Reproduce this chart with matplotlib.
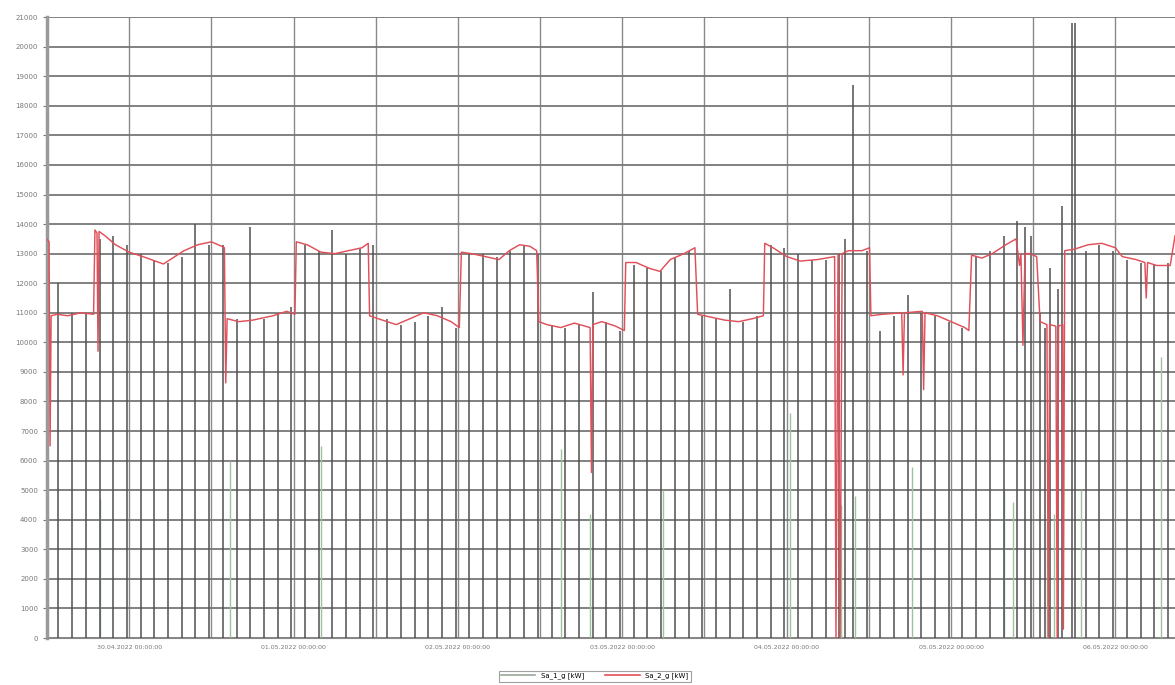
import numpy as np
import pandas as pd
import matplotlib
matplotlib.use("Agg")
from matplotlib import pyplot as plt
import matplotlib.dates as mdates

start = pd.Timestamp("2022-04-29 12:00:00")
t_end_h = 164.7

# red series: hours from start, kW
red_hours = [0.0, 0.3, 0.45, 0.6, 1.5, 3.0, 5.0, 6.8, 7.0, 7.3, 7.45, 7.6,
             8.5, 10.0, 12.0, 14.0, 17.0, 18.0, 20.0, 22.0, 24.0, 25.5, 25.9, 26.1,
             26.3, 28.0, 30.0, 33.0, 35.0, 36.2, 36.4, 38.0, 40.0, 42.0, 44.0, 46.0,
             46.9, 47.1, 49.0, 51.0, 53.0, 55.0, 57.0, 59.0, 60.2, 60.5, 62.0, 64.0,
             66.0, 67.5, 69.0, 70.5, 71.5, 71.8, 73.0, 75.0, 77.0, 79.3, 79.5, 79.7,
             81.0, 83.0, 84.3, 84.5, 86.0, 88.0, 89.5, 91.0, 93.0, 94.6, 95.0, 97.0,
             99.0, 101.0, 103.0, 104.6, 104.8, 106.0, 108.0, 110.0, 112.5, 115.0, 115.2, 115.5,
             115.8, 116.1, 117.0, 119.0, 120.1, 120.3, 122.0, 124.8, 125.0, 125.2, 127.8, 128.0,
             128.2, 130.0, 132.0, 134.0, 134.6, 135.0, 136.5, 138.0, 140.0, 141.5, 142.0, 142.2,
             142.5, 142.8, 143.5, 144.5, 145.0, 145.5, 146.0, 146.2, 146.4, 147.3, 147.5, 147.7,
             148.3, 148.4, 148.6, 150.0, 152.0, 154.0, 156.0, 157.0, 159.0, 160.3, 160.5, 160.7,
             162.0, 164.0, 164.7]
red_kw = [13500, 13400, 6500, 10900, 10950, 10900, 11000, 10950, 13800, 13700, 9700, 13750,
          13600, 13300, 13050, 12900, 12650, 12800, 13100, 13300, 13400, 13250, 13200, 8630,
          10800, 10700, 10750, 10900, 11050, 10950, 13400, 13300, 13050, 13000, 13100, 13200,
          13350, 10900, 10750, 10600, 10800, 11000, 10900, 10700, 10500, 13050, 13000, 12900,
          12800, 13100, 13300, 13250, 13100, 10700, 10600, 10500, 10650, 10500, 5600, 10600,
          10700, 10550, 10400, 12700, 12700, 12500, 12400, 12800, 13000, 13200, 10950, 10850,
          10750, 10700, 10800, 10900, 13350, 13200, 12900, 12750, 12800, 12900, 0, 13000,
          0, 13000, 13100, 13100, 13200, 10900, 10950, 11000, 8900, 11000, 11050, 8400,
          11000, 10900, 10700, 10500, 10400, 12950, 12850, 13000, 13300, 13500, 12600, 13000,
          9900, 13000, 13000, 12900, 10700, 10650, 10600, 0, 10600, 10550, 0, 10550,
          10600, 300, 13100, 13150, 13300, 13350, 13200, 12900, 12800, 12700, 11500, 12700,
          12600, 12600, 13600]

# grey series: short switching spikes every two hours
spike_first_h = 1.67
spike_kw = [12000, 11000, 11000, 13500, 13600, 13300, 13000, 12800, 12700, 12900,
            14000, 13300, 13300, 10800, 13900, 10800, 11000, 11200, 13300, 13100,
            13800, 13000, 13200, 13300, 10800, 10600, 10700, 10900, 11200, 10500,
            13000, 13000, 12900, 13100, 13300, 13000, 10600, 10500, 10600, 11700,
            10700, 10400, 12600, 12500, 12400, 12900, 13100, 10900, 10800, 11800,
            10700, 10900, 13300, 13200, 13000, 12800, 12800, 13000, 18700, 13100,
            10400, 10900, 11600, 11000, 10900, 10700, 10500, 12900, 13100, 13600,
            14100, 13600, 10500, 11800, 20800, 13100, 13300, 13100, 12800, 12700,
            12600, 12700]
extra_hours = [142.8, 145.0, 146.5, 148.2, 150.1, 116.5]
extra_kw = [13900, 11000, 12500, 14600, 20800, 13500]

# partial spikes (lighter trace)
low_hours = [7.7, 26.7, 40.0, 75.0, 79.3, 90.0, 108.5, 116.0, 118.0, 126.3,
             139.8, 141.0, 146.0, 147.0, 151.0, 162.6]
low_kw = [4700, 6000, 6500, 6400, 4200, 5000, 7600, 4500, 4800, 5800,
          5000, 4600, 4000, 4200, 5000, 9500]


def to_time(hours):
    return start + pd.to_timedelta(np.asarray(hours, dtype=float), unit="h")


spike_hours = spike_first_h + 2.0 * np.arange(len(spike_kw))

fig = plt.figure(figsize=(11.75, 6.85), dpi=100)
ax = fig.add_axes([0.04, 0.0686, 0.96, 0.9064])

ax.vlines(to_time(low_hours), 0, low_kw, color="#9cc49c", lw=1.0, zorder=2)
ax.vlines(to_time(spike_hours), 0, spike_kw, color="#4f4f4f", lw=1.1, zorder=3)
ax.vlines(to_time(extra_hours), 0, extra_kw, color="#4f4f4f", lw=1.1, zorder=3)
ax.plot(to_time(red_hours), red_kw, color="#e0505a", lw=1.05, zorder=4)

ax.set_ylim(0, 21000)
ax.set_xlim(to_time([0.0])[0], to_time([t_end_h])[0])
ax.set_yticks(np.arange(0, 21001, 1000))
ax.tick_params(axis="y", labelsize=5, colors="#777777", length=3)

ax.xaxis.set_major_locator(mdates.DayLocator())
ax.xaxis.set_major_formatter(mdates.DateFormatter("%d.%m.%Y %H:%M:%S"))
ax.xaxis.set_minor_locator(mdates.HourLocator(byhour=[0, 12]))
ax.tick_params(axis="x", which="both", labelsize=4.5, colors="#777777", length=0, pad=5)

ax.grid(axis="y", color="#777777", lw=1.3, zorder=1)
ax.grid(axis="x", which="both", color="#8a8a8a", lw=1.0, zorder=1)
ax.set_axisbelow(True)
for side in ["top", "right"]:
    ax.spines[side].set_visible(False)
ax.spines["left"].set_color("#9a9a9a")
ax.spines["left"].set_linewidth(2.5)
ax.spines["bottom"].set_color("#8a8a8a")

handles = [plt.Line2D([], [], color="#9aa89a", lw=1.2),
           plt.Line2D([], [], color="#e0505a", lw=1.2)]
leg = fig.legend(handles, ["Sa_1_g [kW]", "Sa_2_g [kW]"], loc="center",
                 bbox_to_anchor=(0.506, 0.013), ncol=2, fontsize=5,
                 frameon=True, fancybox=False, edgecolor="#888888",
                 handlelength=5, columnspacing=3, borderpad=0.3)
leg.get_frame().set_linewidth(0.8)

fig.savefig("out.png", dpi=100)
